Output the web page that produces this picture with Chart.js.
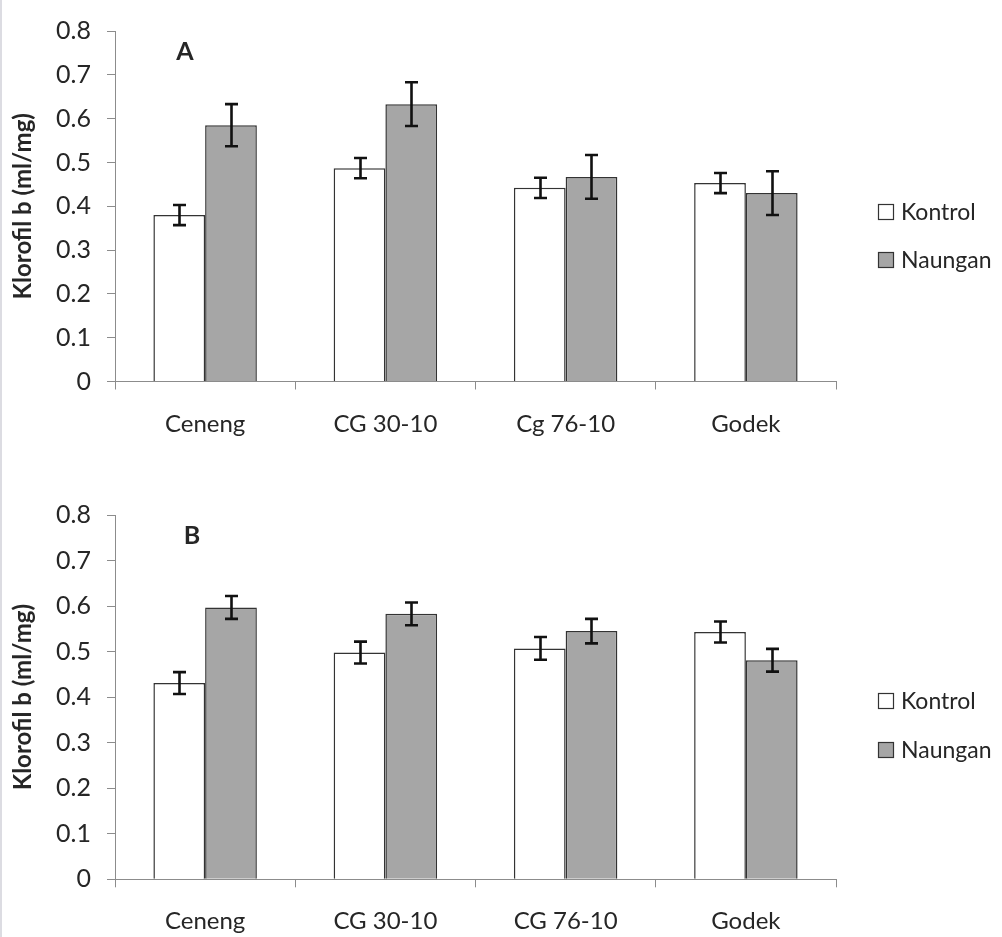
<!DOCTYPE html>
<html>
<head>
<meta charset="utf-8">
<script src="https://cdn.jsdelivr.net/npm/chart.js@4.4.1/dist/chart.umd.min.js"></script>
<style>
  html, body { margin: 0; padding: 0; background: #ffffff; }
  #wrap { position: relative; width: 1002px; height: 937px; overflow: hidden; background: #fff; }
  #edge { position: absolute; left: 0; top: 0; width: 2px; height: 937px; background: #dcdce2; }
  #boxA { position: absolute; left: 0; top: 0; width: 1002px; height: 465px; }
  #boxB { position: absolute; left: 0; top: 465px; width: 1002px; height: 472px; }
  canvas { display: block; }
</style>
</head>
<body>
<div id="wrap">
  <div id="boxA"><canvas id="chartA" width="1002" height="465"></canvas></div>
  <div id="boxB"><canvas id="chartB" width="1002" height="472"></canvas></div>
  <div id="edge"></div>
</div>
<script>
// ---------- data ----------
const categoriesA = ['Ceneng', 'CG 30-10', 'Cg 76-10', 'Godek'];
const categoriesB = ['Ceneng', 'CG 30-10', 'CG 76-10', 'Godek'];
const seriesNames = ['Kontrol', 'Naungan'];

const kontrolA    = [0.380, 0.487, 0.442, 0.453];
const naunganA    = [0.585, 0.633, 0.467, 0.430];
const kontrolErrA = [0.023, 0.023, 0.023, 0.023];
const naunganErrA = [0.048, 0.050, 0.050, 0.050];

const kontrolB    = [0.431, 0.498, 0.507, 0.543];
const naunganB    = [0.597, 0.583, 0.545, 0.481];
const kontrolErrB = [0.024, 0.024, 0.025, 0.023];
const naunganErrB = [0.025, 0.025, 0.027, 0.025];

const yTickLabels = ['0', '0.1', '0.2', '0.3', '0.4', '0.5', '0.6', '0.7', '0.8'];
const yTitle = 'Klorofil b (ml/mg)';
const panelLabels = ['A', 'B'];

// ---------- styles ----------
const kontrolFill = '#ffffff';
const naunganFill = '#a6a6a6';
const barBorder = '#333333';
const axisColor = '#8c8c8c';
const textColor = '#262626';

const errorBarPlugin = {
  id: 'errorBars',
  afterDatasetsDraw(chart) {
    const ctx = chart.ctx;
    const yScale = chart.scales.y;
    ctx.save();
    ctx.strokeStyle = '#111111';
    ctx.lineWidth = 2.6;
    chart.data.datasets.forEach((ds, di) => {
      const meta = chart.getDatasetMeta(di);
      meta.data.forEach((bar, i) => {
        const v = ds.data[i];
        const e = ds.errors[i];
        const x = Math.round(bar.x) + 0.5;
        const yT = yScale.getPixelForValue(v + e);
        const yB = yScale.getPixelForValue(v - e);
        const hw = 6.5;
        ctx.beginPath();
        ctx.moveTo(x, yT); ctx.lineTo(x, yB);
        ctx.moveTo(x - hw, yT); ctx.lineTo(x + hw, yT);
        ctx.moveTo(x - hw, yB); ctx.lineTo(x + hw, yB);
        ctx.stroke();
      });
    });
    ctx.restore();
  }
};

const decorPlugin = {
  id: 'decor',
  afterDraw(chart, args, opts) {
    const ctx = chart.ctx;
    const a = chart.chartArea;
    ctx.save();
    // panel label
    ctx.fillStyle = textColor;
    ctx.font = 'bold 25px Lato, sans-serif';
    ctx.textAlign = 'center';
    ctx.textBaseline = 'middle';
    ctx.fillText(opts.panel, a.left + opts.panelDx, a.top + opts.panelDy);
    // legend
    const mid = (a.top + a.bottom) / 2;
    const rows = [mid + opts.legendDy1, mid + opts.legendDy2];
    ctx.font = '23px Lato, sans-serif';
    ctx.textAlign = 'left';
    chart.data.datasets.forEach((ds, i) => {
      const cy = rows[i];
      const bx = a.right + 42.5, by = Math.round(cy - 7.5) + 0.5;
      ctx.fillStyle = ds.backgroundColor;
      ctx.fillRect(bx, by, 15, 15);
      ctx.strokeStyle = barBorder;
      ctx.lineWidth = 1.2;
      ctx.strokeRect(bx, by, 15, 15);
      ctx.fillStyle = textColor;
      ctx.fillText(ds.label, a.right + 65, cy + 1);
    });
    ctx.restore();
  }
};

function makeChart(canvasId, cats, kv, nv, ke, ne, panel, topPad, xHeight, legendDy1, legendDy2, panelDx) {
  return new Chart(document.getElementById(canvasId), {
    type: 'bar',
    data: {
      labels: cats,
      datasets: [
        { label: seriesNames[0], data: kv, errors: ke, backgroundColor: kontrolFill,
          borderColor: barBorder, borderWidth: 1.5 },
        { label: seriesNames[1], data: nv, errors: ne, backgroundColor: naunganFill,
          borderColor: barBorder, borderWidth: 1.5 }
      ]
    },
    options: {
      responsive: false,
      animation: false,
      devicePixelRatio: 1,
      layout: { padding: { top: topPad, right: 166, bottom: 0, left: 0 } },
      datasets: { bar: { categoryPercentage: 0.574, barPercentage: 1.0 } },
      plugins: {
        legend: { display: false },
        tooltip: { enabled: false },
        decor: { panel: panel, panelDx: panelDx, panelDy: 21, legendDy1: legendDy1, legendDy2: legendDy2 }
      },
      scales: {
        x: {
          offset: true,
          grid: { display: true, offset: true, drawOnChartArea: false, drawTicks: true,
                  tickLength: 8, color: axisColor, lineWidth: 1 },
          border: { display: true, color: axisColor, width: 1 },
          ticks: { color: textColor, font: { family: 'Lato', size: 24 }, padding: 20, maxRotation: 0 },
          afterFit(s) { s.height = xHeight; }
        },
        y: {
          min: 0, max: 0.8,
          ticks: { stepSize: 0.1, color: textColor, font: { family: 'Lato', size: 25 }, padding: 16,
                   callback: (v) => yTickLabels[Math.round(v * 10)] },
          grid: { display: true, drawOnChartArea: false, drawTicks: true, tickLength: 8,
                  color: axisColor, lineWidth: 1 },
          border: { display: true, color: axisColor, width: 1 },
          title: { display: true, text: yTitle, color: textColor,
                   font: { family: 'Lato', size: 24, weight: 'bold' }, padding: { top: 9, bottom: 0 } },
          afterFit(s) { s.width = 115; }
        }
      }
    },
    plugins: [errorBarPlugin, decorPlugin]
  });
}

makeChart('chartA', categoriesA, kontrolA, naunganA, kontrolErrA, naunganErrA, panelLabels[0], 16, 83.5, 5.5, 53.5, 70);
makeChart('chartB', categoriesB, kontrolB, naunganB, kontrolErrB, naunganErrB, panelLabels[1], 50, 57.7, 3, 52, 77);
</script>
</body>
</html>
